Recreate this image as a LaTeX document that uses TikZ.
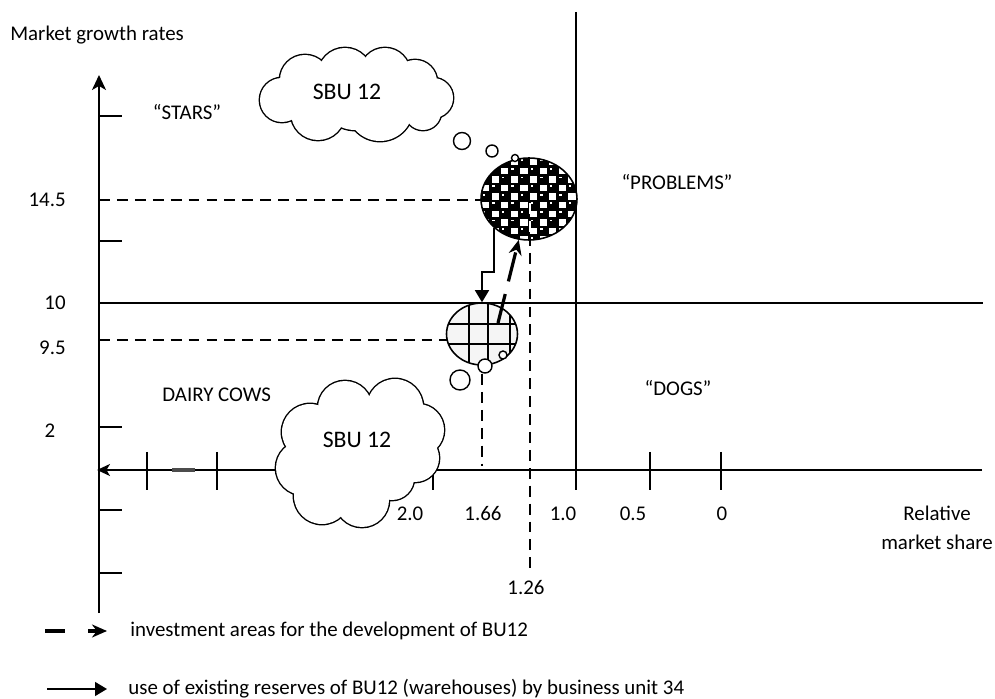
\documentclass[tikz,border=0pt]{standalone}
\usepackage{fontspec}
\setmainfont{Carlito}
\usetikzlibrary{arrows.meta,shapes.geometric,calc}

\tikzset{
  px/.style={x=0.02cm,y=-0.02cm},
  axis/.style={line width=1.1pt},
  quad/.style={line width=0.85pt},
  tick/.style={line width=0.9pt},
  guide/.style={line width=0.75pt, dash pattern=on 6.2pt off 4pt},
  lbl/.style={font=\fontsize{11.9}{16.4}\selectfont, inner sep=0pt},
  cloudtext/.style={font=\fontsize{13.5}{16}\selectfont, inner sep=0pt},
  puffrim/.style={line width=1.6pt},
  bubble/.style={circle, draw, fill=white, line width=0.8pt, inner sep=0pt},
  unitring/.style={ellipse, draw, line width=0.9pt, inner sep=0pt},
  reserve/.style={line width=0.8pt, -{Triangle[length=0.24cm,width=0.28cm]}},
  invest/.style={line width=1.8pt, dash pattern=on 17pt off 7.4pt, -{Stealth[length=0.3cm,width=0.26cm]}},
  axtip/.style={-{Stealth[length=0.3cm,width=0.28cm,inset=0.08cm]}},
}

% puff circles (x/y/radius) of the two thought clouds
\def\lowpuffs{310/432/28, 345/408/27, 395/407/28, 418/430/26, 415/458/24,
  392/478/22, 362/500/27, 322/496/28, 303/468/27, 360/450/45}
\def\highpuffs{282/100/22, 305/80/25, 345/75/27, 385/73/25, 415/82/22,
  433/98/20, 423/112/18, 380/108/33, 318/113/27, 355/95/35}

\begin{document}
\begin{tikzpicture}[px]
\useasboundingbox (0,0) rectangle (995,699);

% quadrant dividers
\draw[quad] (576,12) -- (576,490);
\draw[quad] (99,303) -- (983,303);

% guide lines to the business units
\draw[guide] (99,200) -- (481,200);
\draw[guide] (99,340) -- (447,340);
\draw[guide] (482,374) -- (482,466);
\draw[guide] (530,199) -- (530,568);

% axes
\draw[axis, axtip] (99,613) -- (99,75);
\draw[axis, -{Stealth[length=0.26cm,width=0.24cm,inset=0.07cm]}] (982,470) -- (97,470);

% ticks
\foreach \y in {116,241,303,427,510,573} \draw[tick] (99,\y) -- (122,\y);
\foreach \x in {147,217,433,650,721} \draw[tick] (\x,452) -- (\x,490);
\draw[line width=1.8pt, gray!60!black] (172,470) -- (195,470);

% thought clouds: stroke every puff, then fill them all so only the outer rim stays
\foreach \cx/\cy/\r in \lowpuffs \draw[puffrim] (\cx,\cy) circle [radius=\r];
\foreach \cx/\cy/\r in \lowpuffs \fill[white] (\cx,\cy) circle [radius=\r];
\node[cloudtext] (c2t) at (357,440) {SBU 12};
\foreach \cx/\cy/\r in \highpuffs \draw[puffrim] (\cx,\cy) circle [radius=\r];
\foreach \cx/\cy/\r in \highpuffs \fill[white] (\cx,\cy) circle [radius=\r];
\node[cloudtext] (c1t) at (347,92) {SBU 12};

% unit in the "problems" quadrant, checkered
\begin{scope}
  \clip (529,199) ellipse [x radius=48, y radius=41];
  \fill (475,150) rectangle (585,250);
  \foreach \i in {0,...,10}{
    \foreach \j in {0,...,9}{
      \pgfmathtruncatemacro\odd{mod(\i+\j,2)}
      \ifnum\odd=0
        \fill[white] (482.5+\i*9.6,159.5+\j*8.6) rectangle ++(2.4,1.8);
      \else
        \fill[white] (482+\i*9.6,159+\j*8.6) rectangle ++(7.2,6.4);
      \fi
    }
  }
  \draw[white, line width=0.7pt, dash pattern=on 6.2pt off 4pt] (530,203) -- (530,240);
\end{scope}
\node[unitring, minimum width=1.92cm, minimum height=1.64cm] (chk) at (529,199) {};

% unit near the border, gridded
\begin{scope}
  \clip (482,334) ellipse [x radius=35.5, y radius=31];
  \fill[gray!8] (440,300) rectangle (520,370);
  \foreach \x in {469,488,510} \draw[line width=1.1pt] (\x,300) -- (\x,370);
  \foreach \y in {324,344} \draw[line width=1.1pt] (440,\y) -- (520,\y);
\end{scope}
\node[unitring, minimum width=1.42cm, minimum height=1.24cm] (grid) at (482,334) {};

% thought bubbles
\node[bubble, minimum size=0.34cm] (b1) at (462,141) {};
\node[bubble, minimum size=0.24cm] (b2) at (492,151) {};
\node[bubble, minimum size=0.14cm] (b3) at (515,158) {};
\node[bubble, minimum size=0.40cm] (b4) at (460,380) {};
\node[bubble, minimum size=0.28cm] (b5) at (485,366) {};
\node[bubble, minimum size=0.16cm] (b6) at (503,355) {};

% flows between the units
\draw[reserve] (chk.220) |- (482,272) -- (grid.north);
\coordinate (inv0) at (498,323);
\draw[invest] (inv0) -- (chk);

% labels
\node[lbl, anchor=west] (ylab) at (10,35) {Market growth rates};
\node[lbl] (stars) at (187,112) {“STARS”};
\node[lbl] (prob) at (677,182) {“PROBLEMS”};
\node[lbl] (dogs) at (678,388) {“DOGS”};
\node[lbl, anchor=west] (cows) at (162,395) {DAIRY COWS};
\node[lbl, anchor=east] (v145) at (66,200) {14.5};
\node[lbl, anchor=east] (v10) at (66,303) {10};
\node[lbl, anchor=east] (v95) at (66,348) {9.5};
\node[lbl] (v2) at (50,431) {2};
\node[lbl] (h20) at (410,514) {2.0};
\node[lbl] (h166) at (483,514) {1.66};
\node[lbl] (h10) at (563,514) {1.0};
\node[lbl] (h05) at (633,514) {0.5};
\node[lbl] (h0) at (722,514) {0};
\node[lbl] (h126) at (526,588) {1.26};
\node[lbl, align=center] (xlab) at (937,528) {Relative\\market share};

% legend
\coordinate (l1a) at (45,631);
\coordinate (l1b) at (65,631);
\coordinate (l1c) at (88,631);
\coordinate (l1d) at (107,631);
\draw[line width=2pt] (l1a) -- (l1b);
\draw[line width=1.8pt, -{Stealth[length=0.3cm,width=0.26cm]}] (l1c) -- (l1d);
\node[lbl, anchor=west] (leg1) at (130,631) {investment areas for the development of BU12};
\coordinate (l2a) at (47,689);
\coordinate (l2b) at (107,689);
\draw[reserve] (l2a) -- (l2b);
\node[lbl, anchor=west] (leg2) at (128,689) {use of existing reserves of BU12 (warehouses) by business unit 34};
\end{tikzpicture}
\end{document}
